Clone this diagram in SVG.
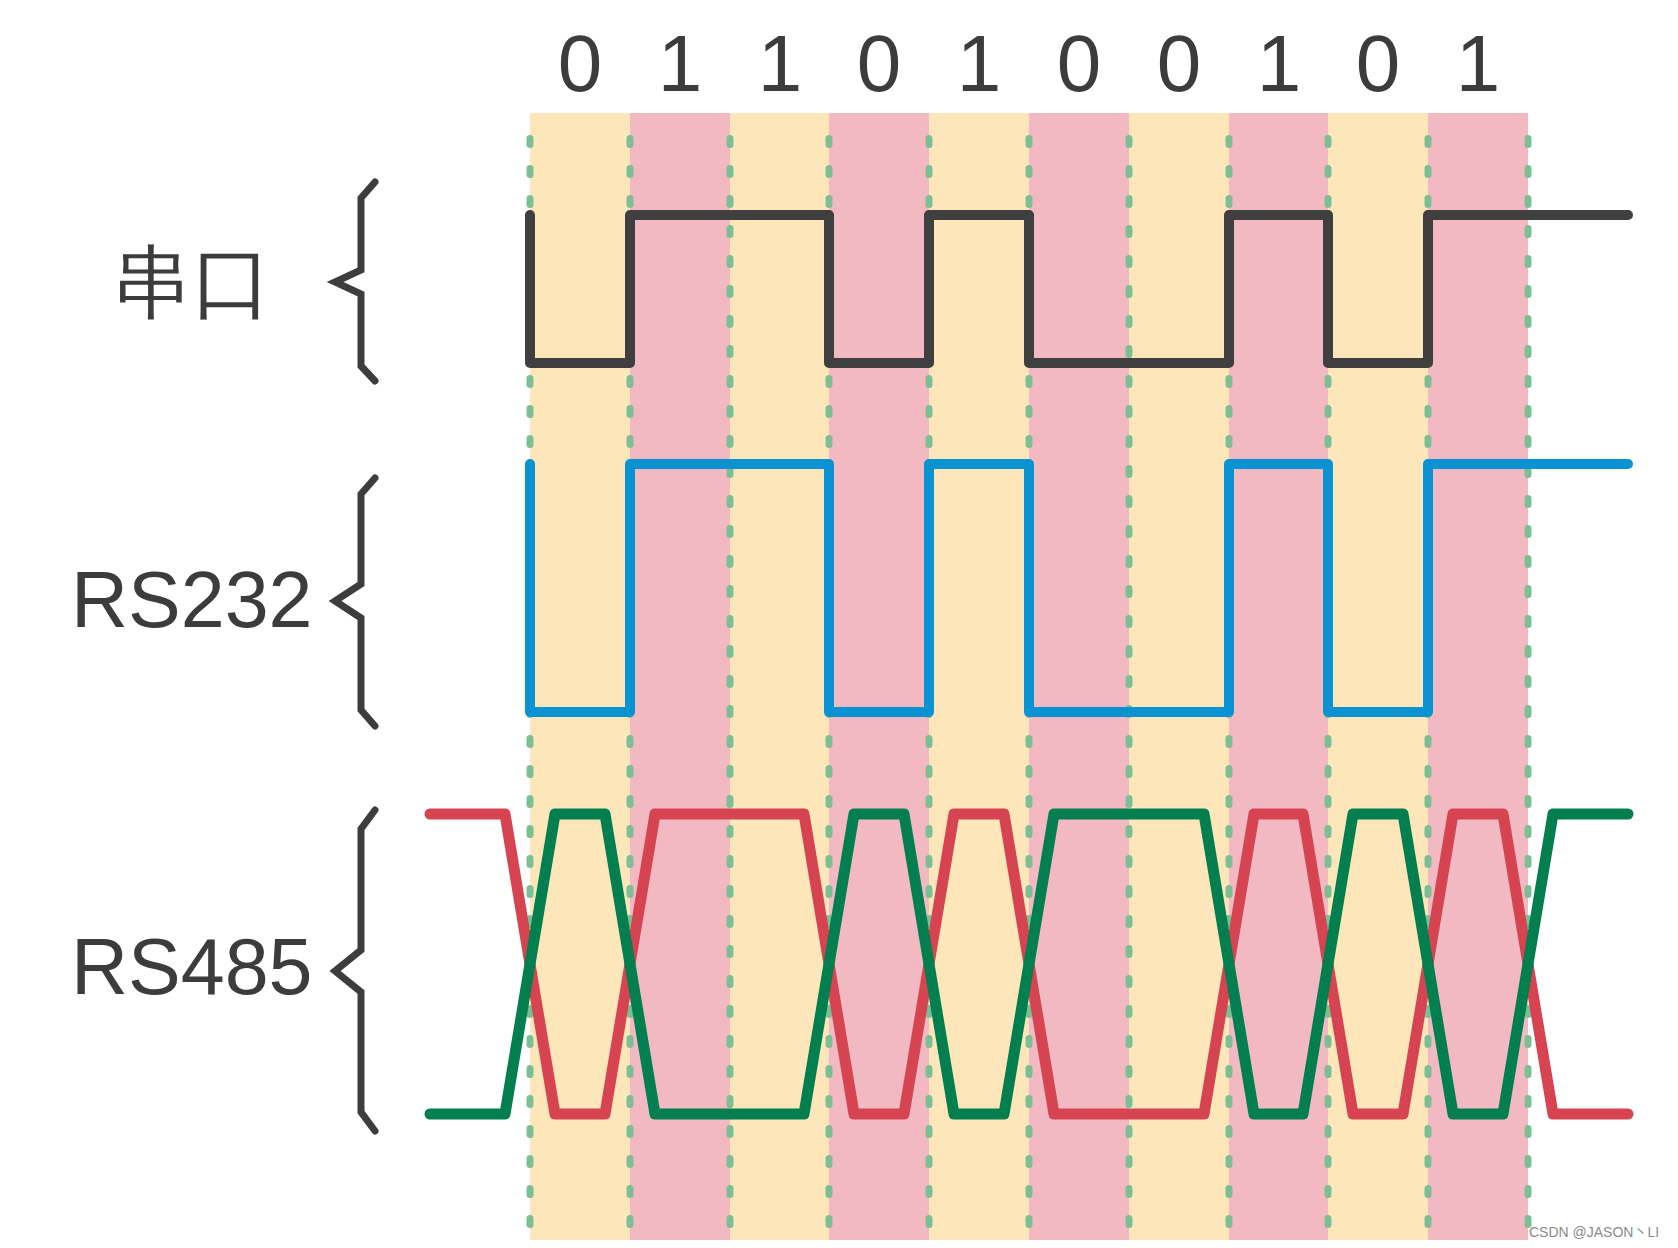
<svg xmlns="http://www.w3.org/2000/svg" width="1678" height="1248" viewBox="0 0 1678 1248">
  <style>
    .ys { fill: #FDE7BA; }
    .ps { fill: #F2B9C3; }
    .grid { stroke: #7CBF94; stroke-width: 7; stroke-linecap: round; stroke-dasharray: 6 24; fill: none; }
    .wave { fill: none; stroke-linecap: round; stroke-linejoin: round; }
    .brace { fill: none; stroke: #3d3d3d; stroke-width: 7; stroke-linecap: round; stroke-linejoin: miter; }
    .lbl { font-family: "Liberation Sans", Arial, sans-serif; fill: #3c3c3c; }
    .bit { font-family: "Liberation Sans", Arial, sans-serif; font-size: 80px; fill: #3c3c3c; text-anchor: middle; }
  </style>
  <rect width="1678" height="1248" fill="#ffffff"/>

  <g id="stripes">
    <rect class="ys" x="530" y="113" width="100" height="1127"/>
    <rect class="ps" x="630" y="113" width="100" height="1127"/>
    <rect class="ys" x="730" y="113" width="99" height="1127"/>
    <rect class="ps" x="829" y="113" width="100" height="1127"/>
    <rect class="ys" x="929" y="113" width="100" height="1127"/>
    <rect class="ps" x="1029" y="113" width="100" height="1127"/>
    <rect class="ys" x="1129" y="113" width="100" height="1127"/>
    <rect class="ps" x="1229" y="113" width="99" height="1127"/>
    <rect class="ys" x="1328" y="113" width="100" height="1127"/>
    <rect class="ps" x="1428" y="113" width="100" height="1127"/>
  </g>

  <g id="grid">
    <path class="grid" d="M530,138.5V1224.5M630,138.5V1224.5M730,138.5V1224.5M829,138.5V1224.5M929,138.5V1224.5M1029,138.5V1224.5M1129,138.5V1224.5M1229,138.5V1224.5M1328,138.5V1224.5M1428,138.5V1224.5M1528,138.5V1224.5"/>
  </g>

  <g id="bits">
    <text class="bit" x="580" y="91">0</text>
    <text class="bit" x="680" y="91">1</text>
    <text class="bit" x="780" y="91">1</text>
    <text class="bit" x="879" y="91">0</text>
    <text class="bit" x="979" y="91">1</text>
    <text class="bit" x="1079" y="91">0</text>
    <text class="bit" x="1179" y="91">0</text>
    <text class="bit" x="1279" y="91">1</text>
    <text class="bit" x="1378" y="91">0</text>
    <text class="bit" x="1478" y="91">1</text>
  </g>

  <g id="serial">
    <text class="lbl" x="112" y="310" font-size="80" font-family="'Noto Sans CJK SC', sans-serif">串口</text>
    <path class="brace" d="M375,182 L361,198 V270 L335,282 L361,294 V366 L375,381"/>
    <path class="wave" stroke="#3f3f3f" stroke-width="10" d="M530,215 V363 H630 V215 H829 V363 H929 V215 H1029 V363 H1229 V215 H1328 V363 H1428 V215 H1628"/>
  </g>

  <g id="rs232">
    <text class="lbl" x="71" y="627" font-size="79">RS232</text>
    <path class="brace" d="M375,478 L361,494 V584 L335,601 L361,618 V710 L375,726"/>
    <path class="wave" stroke="#0A93D2" stroke-width="10" d="M530,464 V712 H630 V464 H829 V712 H929 V464 H1029 V712 H1229 V464 H1328 V712 H1428 V464 H1628"/>
  </g>

  <g id="rs485">
    <text class="lbl" x="71" y="994" font-size="79">RS485</text>
    <path class="brace" d="M375,810 L361,829 V950 L335,971 L361,992 V1112 L375,1131"/>
    <path class="wave" stroke="#D64452" stroke-width="11" d="M430,814 H505 L555,1114 H605 L655,814 H804 L854,1114 H904 L954,814 H1004 L1054,1114 H1204 L1254,814 H1303 L1353,1114 H1403 L1453,814 H1503 L1553,1114 H1628"/>
    <path class="wave" stroke="#037F4F" stroke-width="11" d="M430,1114 H505 L555,814 H605 L655,1114 H804 L854,814 H904 L954,1114 H1004 L1054,814 H1204 L1254,1114 H1303 L1353,814 H1403 L1453,1114 H1503 L1553,814 H1628"/>
  </g>

  <g id="watermark">
    <text x="1529" y="1237" font-size="14" font-family="'Liberation Sans', 'Noto Sans CJK SC', sans-serif" fill="#8a8a8a">CSDN @JASON丶LI</text>
  </g>
</svg>
